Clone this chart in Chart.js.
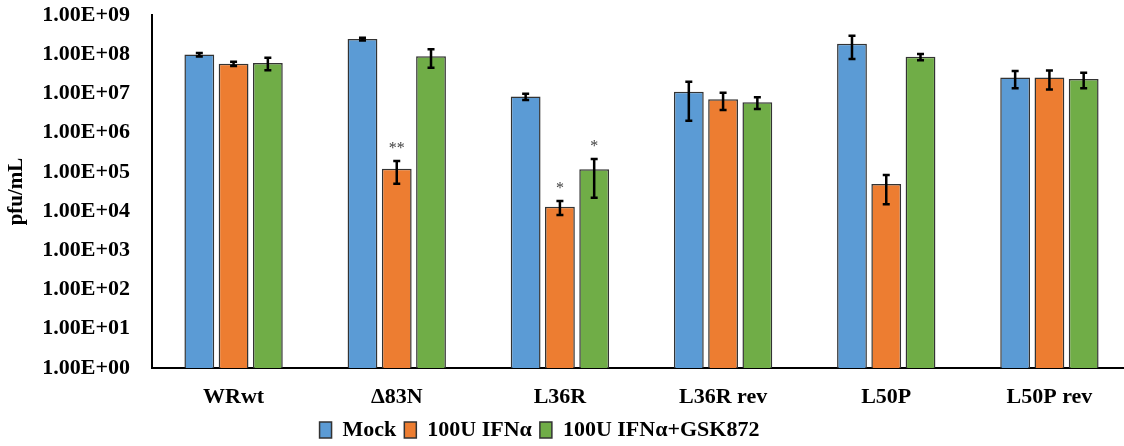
<!DOCTYPE html>
<html lang="en">
<head>
    <meta charset="UTF-8">
    <title>pfu/mL</title>
    <script src="https://cdn.jsdelivr.net/npm/chart.js@4.4.0/dist/chart.umd.min.js"></script>
    <style>
        html, body { margin: 0; padding: 0; background: #fff; overflow: hidden; }
        #wrap { position: relative; width: 1131px; height: 446px; }
    </style>
</head>
<body>
    <div id="wrap"><canvas id="chart"></canvas></div>

    <script>
        // Data
        const categories = ['WRwt', '\u039483N', 'L36R', 'L36R rev', 'L50P', 'L50P rev'];
        const seriesNames = ['Mock', '100U IFN\u03b1', '100U IFN\u03b1+GSK872'];

        const mockValues = [9.8e7, 2.43e8, 8.3e6, 1.1e7, 1.85e8, 2.56e7];
        const ifnValues  = [5.7e7, 1.2e5, 1.3e4, 7.1e6, 4.9e4, 2.56e7];
        const gskValues  = [6.0e7, 8.9e7, 1.17e5, 6.0e6, 8.6e7, 2.35e7];

        const mockErr = [1.0e7, 2.0e7, 1.5e6, 9.0e6, 1.1e8, 1.2e7];
        const ifnErr  = [7.0e6, 7.0e4, 5.0e3, 3.3e6, 3.4e4, 1.3e7];
        const gskErr  = [2.1e7, 4.4e7, 9.5e4, 2.0e6, 1.6e7, 1.0e7];

        const mockStars = ['', '', '', '', '', ''];
        const ifnStars  = ['', '**', '*', '', '', ''];
        const gskStars  = ['', '', '*', '', '', ''];

        const yTickValues = [1, 1e1, 1e2, 1e3, 1e4, 1e5, 1e6, 1e7, 1e8, 1e9];
        const yTickLabels = ['1.00E+00', '1.00E+01', '1.00E+02', '1.00E+03', '1.00E+04',
                             '1.00E+05', '1.00E+06', '1.00E+07', '1.00E+08', '1.00E+09'];

        const colors = ['#5B9BD5', '#ED7D31', '#70AD47'];
        const FONT = '"Liberation Serif", "Times New Roman", serif';

        // error bars + asterisks
        const errorBars = {
            id: 'errorBars',
            afterDatasetsDraw(chart) {
                const ctx = chart.ctx;
                const y = chart.scales.y;
                chart.data.datasets.forEach((ds, di) => {
                    const meta = chart.getDatasetMeta(di);
                    meta.data.forEach((bar, i) => {
                        const v = ds.data[i], e = ds.err[i];
                        const yTop = y.getPixelForValue(v + e);
                        const yBot = y.getPixelForValue(Math.max(v - e, 1));
                        ctx.save();
                        ctx.strokeStyle = '#000';
                        ctx.lineWidth = 2.5;
                        ctx.beginPath();
                        ctx.moveTo(bar.x, yTop); ctx.lineTo(bar.x, yBot);
                        ctx.moveTo(bar.x - 3.5, yTop); ctx.lineTo(bar.x + 3.5, yTop);
                        ctx.moveTo(bar.x - 3.5, yBot); ctx.lineTo(bar.x + 3.5, yBot);
                        ctx.stroke();
                        if (ds.stars[i]) {
                            ctx.fillStyle = '#404040';
                            ctx.font = '16px ' + FONT;
                            ctx.textAlign = 'center';
                            ctx.textBaseline = 'bottom';
                            ctx.fillText(ds.stars[i], bar.x, yTop - 4);
                        }
                        ctx.restore();
                    });
                });
            }
        };

        // nudge the legend a little left and down, like the original
        const legendShift = {
            id: 'legendShift',
            afterLayout(chart) {
                chart.legend.right -= 52;
                chart.legend.top += 5;
                chart.legend.bottom += 5;
            }
        };

        new Chart(document.getElementById('chart'), {
            type: 'bar',
            data: {
                labels: categories,
                datasets: [
                    { label: seriesNames[0], data: mockValues, err: mockErr, stars: mockStars, backgroundColor: colors[0] },
                    { label: seriesNames[1], data: ifnValues,  err: ifnErr,  stars: ifnStars,  backgroundColor: colors[1] },
                    { label: seriesNames[2], data: gskValues,  err: gskErr,  stars: gskStars,  backgroundColor: colors[2] }
                ].map(d => Object.assign(d, { borderColor: '#333', borderWidth: 1.5, borderSkipped: 'bottom' }))
            },
            options: {
                responsive: true,
                maintainAspectRatio: false,
                animation: false,
                categoryPercentage: 0.63,
                barPercentage: 0.87,
                layout: { padding: 0 },
                plugins: {
                    tooltip: { enabled: false },
                    legend: {
                        position: 'bottom',
                        labels: {
                            color: '#000',
                            font: { family: FONT, size: 22, weight: 'bold' },
                            boxWidth: 12,
                            boxHeight: 16,
                            padding: 8
                        }
                    }
                },
                scales: {
                    x: {
                        grid: { display: false, drawTicks: false },
                        border: { color: '#000', width: 2 },
                        ticks: {
                            color: '#000',
                            padding: 16,
                            font: { family: FONT, size: 22, weight: 'bold' }
                        },
                        afterFit(scale) { scale.height = 38; }
                    },
                    y: {
                        type: 'logarithmic',
                        min: 1,
                        max: 1e9,
                        grid: { display: false, drawTicks: false },
                        border: { color: '#000', width: 2 },
                        title: {
                            display: true,
                            text: 'pfu/mL',
                            color: '#000',
                            font: { family: FONT, size: 21, weight: 'bold' },
                            padding: { top: 4, bottom: 0 }
                        },
                        ticks: {
                            color: '#000',
                            padding: 22,
                            font: { family: FONT, size: 22, weight: 'bold' },
                            callback: (val) => {
                                const k = yTickValues.indexOf(val);
                                return k >= 0 ? yTickLabels[k] : '';
                            }
                        },
                        afterBuildTicks(scale) {
                            scale.ticks = yTickValues.map(v => ({ value: v, major: true }));
                        },
                        afterFit(scale) {
                            scale.width = 152;
                            scale.paddingTop = 15;
                            scale.paddingBottom = 0;
                        }
                    }
                }
            },
            plugins: [errorBars, legendShift]
        });
    </script>
</body>
</html>
